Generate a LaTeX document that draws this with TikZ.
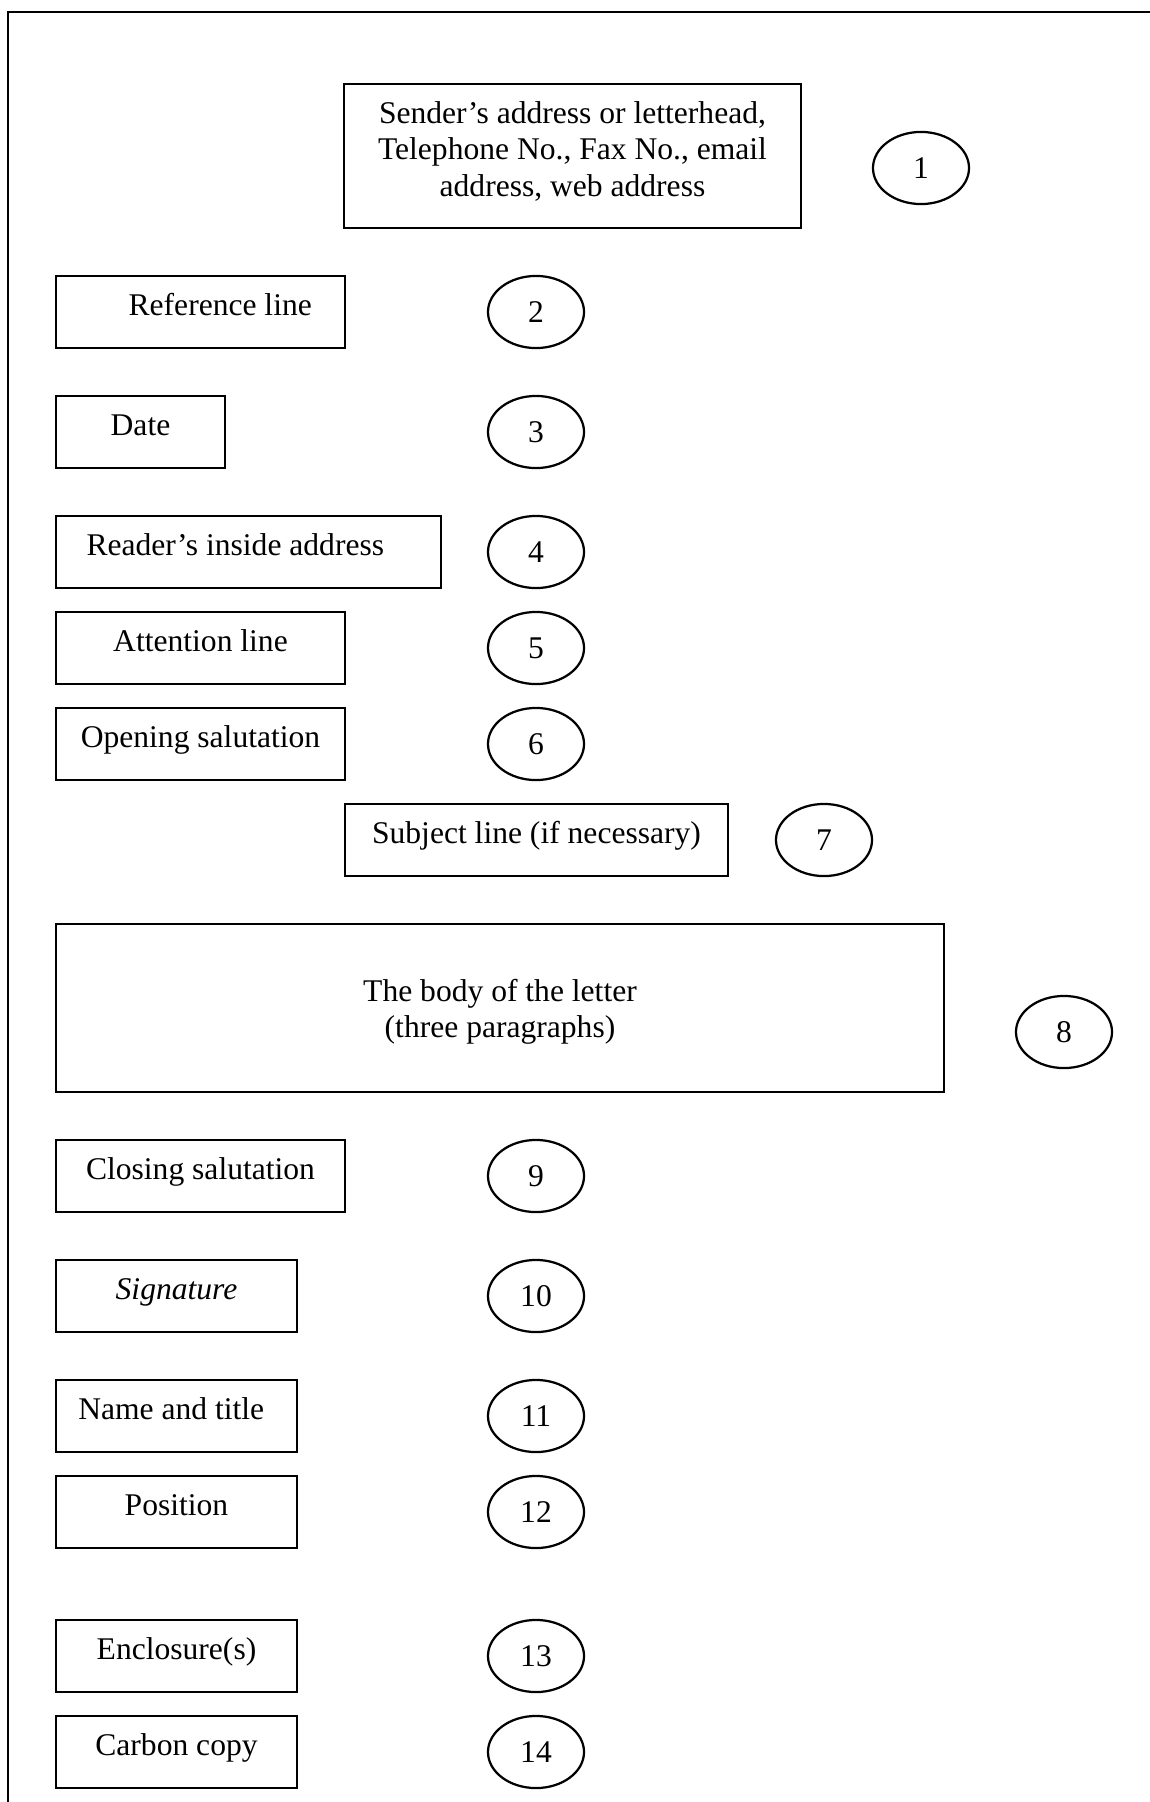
\documentclass[tikz,border=0pt,12pt]{standalone}
\usepackage{fontspec}
\setmainfont{Liberation Serif}
\usetikzlibrary{shapes.geometric}

\begin{document}
\begin{tikzpicture}[x=0.38pt,y=-0.38pt,
  field/.style={draw, line width=0.85pt, inner sep=0pt, minimum height=27.4pt,
    text height=8pt, text depth=5pt, font=\fontsize{12pt}{14pt}\selectfont},
  num/.style={draw, ellipse, line width=0.85pt, inner sep=0pt, minimum width=36.5pt,
    minimum height=27.4pt, font=\fontsize{12pt}{14pt}\selectfont}]
\useasboundingbox (0,0) rectangle (1150,1802);

% Page frame
\draw[line width=0.85pt] (8,1802) -- (8,12) -- (1150,12);

% Letterhead
\node[field, minimum width=173.7pt, minimum height=54.7pt, align=center,
  text height=34pt, text depth=3pt] (sender) at (572.5,156)
  {Sender’s address or letterhead,\\Telephone No., Fax No., email\\address, web address};

% Parts of the letter
\node[field, minimum width=109.8pt] (reference) at (200.5,312) {\hspace*{15pt}Reference line};
\node[field, minimum width=64.2pt] (date) at (140.5,432) {Date};
\node[field, minimum width=146.3pt] (inside) at (248.5,552) {Reader’s inside address\hspace*{10pt}};
\node[field, minimum width=109.8pt] (attention) at (200.5,648) {Attention line};
\node[field, minimum width=109.8pt] (opening) at (200.5,744) {Opening salutation};
\node[field, minimum width=145.5pt] (subject) at (536.5,840) {Subject line (if necessary)};
\node[field, minimum width=337.4pt, minimum height=63.8pt, align=center,
  text height=25.3pt, text depth=2.6pt] (body) at (500,1008)
  {The body of the letter\\(three paragraphs)};
\node[field, minimum width=109.8pt] (closing) at (200.5,1176) {Closing salutation};
\node[field, minimum width=91.6pt] (signature) at (176.5,1296) {\textit{Signature}};
\node[field, minimum width=91.6pt] (name) at (176.5,1416) {Name and title\hspace*{4pt}};
\node[field, minimum width=91.6pt] (position) at (176.5,1512) {Position};
\node[field, minimum width=91.6pt] (enclosure) at (176.5,1656) {Enclosure(s)};
\node[field, minimum width=91.6pt] (copy) at (176.5,1752) {Carbon copy};

% Numbers
\node[num] (n1) at (921,168) {1};
\node[num] (n7) at (824,840) {7};
\node[num] (n8) at (1064,1032) {8};
\foreach \n/\y in {2/312,3/432,4/552,5/648,6/744,9/1176,10/1296,11/1416,12/1512,13/1656,14/1752} {
    \node[num] (n\n) at (536,\y) {\n};
}
\end{tikzpicture}
\end{document}
